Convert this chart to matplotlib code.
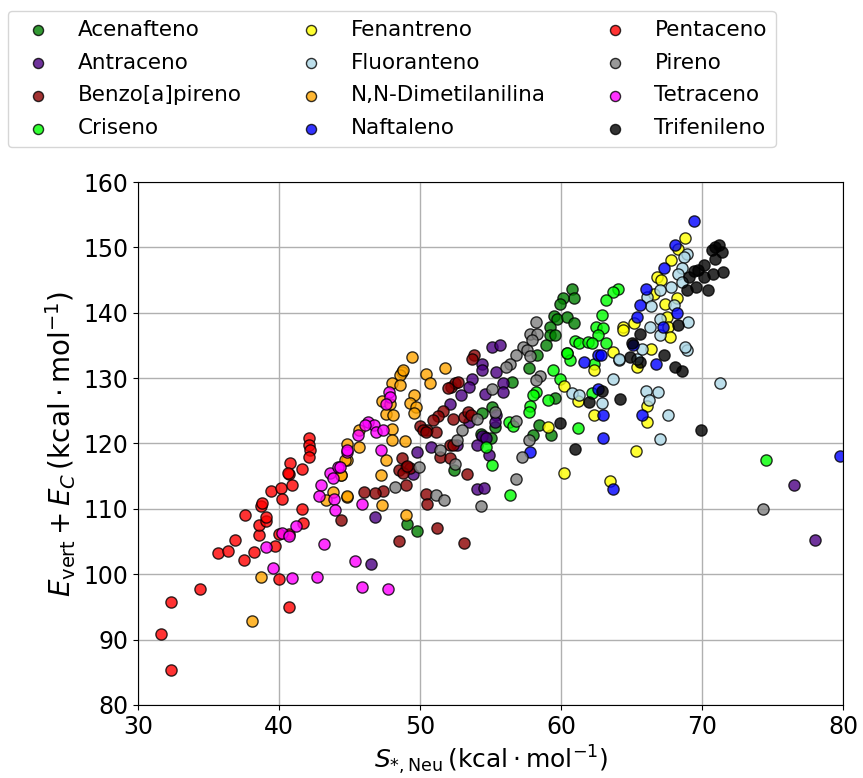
import numpy as np
import matplotlib
matplotlib.use("Agg")
import matplotlib.pyplot as plt

# valores (S_*,Neu ; E_vert + E_C), em kcal/mol
acenafteno_x = [60.8, 60.9, 60.1, 59.9, 59.5, 59.7, 60.4, 60.9, 59.2, 59.2, 59.6, 58.9, 58.3,
                57.7, 56.5, 59.6, 55.1, 54.4, 55.3, 58.4, 58.0, 59.3, 54.3, 54.6, 55.0, 52.4,
                49.1, 49.8]
acenafteno_y = [143.6, 142.3, 142.2, 141.3, 139.5, 139.1, 139.4, 138.5, 137.8, 136.6, 136.6, 135.0, 133.5,
                131.5, 129.4, 126.9, 125.6, 124.6, 122.5, 122.8, 121.3, 121.3, 121.4, 121.0, 120.9, 115.9,
                107.6, 106.6]

antraceno_x = [76.5, 78.0, 46.5, 46.8, 55.1, 55.7, 54.4, 54.4, 55.4, 53.7, 55.9, 55.9, 52.9,
               53.5, 54.6, 52.1, 55.4, 55.3, 53.5, 54.4, 54.7, 54.0, 52.6, 50.8, 49.8, 54.9,
               49.5, 54.0, 54.5]
antraceno_y = [113.6, 105.3, 101.6, 108.7, 134.8, 135.0, 132.2, 131.3, 131.0, 129.9, 129.2, 127.9, 127.4,
               128.7, 127.5, 126.0, 124.3, 123.3, 123.3, 121.1, 120.9, 119.7, 119.7, 119.5, 118.7, 118.2,
               115.3, 113.1, 113.2]

benzo_x = [44.4, 48.5, 51.2, 53.1, 53.8, 53.7, 52.2, 52.5, 52.7, 52.0, 51.6, 51.3, 50.9,
           52.3, 53.1, 53.4, 53.6, 50.0, 50.5, 50.2, 51.1, 50.4, 52.1, 52.3, 51.4, 52.1,
           48.7, 49.0, 49.3, 48.5, 48.8, 49.1, 53.3, 49.0, 47.4, 46.8, 46.0, 50.4, 50.5]
benzo_y = [108.3, 105.0, 107.1, 104.7, 133.5, 133.0, 128.7, 129.2, 129.4, 128.5, 125.0, 124.2, 123.6,
           123.8, 124.1, 124.8, 124.3, 122.6, 122.1, 122.0, 121.8, 121.7, 119.7, 119.8, 117.9, 117.7,
           117.7, 116.4, 116.3, 115.9, 115.5, 116.6, 115.4, 113.6, 112.8, 112.4, 112.6, 112.3, 110.8]

criseno_x = [74.5, 60.4, 60.6, 59.4, 59.9, 58.2, 58.0, 59.1, 57.8, 57.7, 56.3, 56.6, 61.2,
             54.7, 55.1, 56.4, 61.0, 61.3, 61.9, 60.4, 64.0, 63.7, 63.2, 62.9, 62.5, 63.0,
             62.6, 63.2, 62.2, 62.3, 62.2]
criseno_y = [117.5, 133.8, 132.7, 131.3, 129.8, 127.9, 127.4, 126.7, 125.8, 124.8, 123.3, 122.6, 122.4,
             119.5, 116.7, 112.1, 135.7, 135.4, 135.5, 133.9, 143.6, 143.2, 141.9, 139.6, 137.8, 137.7,
             136.6, 135.3, 135.3, 132.2, 127.7]

fenantreno_x = [68.8, 67.8, 68.3, 66.8, 67.1, 68.2, 66.6, 67.4, 67.5, 67.6, 67.7, 65.2, 64.4,
                64.4, 66.4, 63.7, 62.3, 65.4, 62.3, 66.1, 66.1, 65.3, 63.5, 60.2, 61.2, 59.1,
                60.2]
fenantreno_y = [151.5, 148.1, 149.8, 145.5, 145.0, 142.3, 142.9, 141.4, 139.4, 137.8, 136.3, 138.5, 137.8,
                137.3, 134.4, 134.0, 131.2, 131.7, 124.3, 125.7, 123.3, 118.9, 114.3, 128.8, 126.5, 122.5,
                115.5]

fluoranteno_x = [71.3, 67.0, 67.6, 66.0, 66.9, 66.2, 63.7, 62.9, 64.1, 65.4, 68.9, 68.9, 68.7,
                 68.6, 68.3, 67.8, 68.6, 67.0, 66.1, 66.4, 68.0, 69.0, 67.0, 66.3, 67.0, 68.8,
                 65.7, 64.1, 60.8, 61.3]
fluoranteno_y = [129.2, 120.7, 124.3, 128.1, 127.9, 126.7, 129.8, 126.2, 132.7, 133.0, 134.3, 149.0, 148.6,
                 146.9, 145.9, 144.0, 144.7, 143.5, 142.4, 141.0, 141.2, 138.6, 139.0, 137.8, 136.6, 134.8,
                 134.5, 133.0, 127.7, 127.4]

dimetil_x = [38.7, 38.1, 44.8, 44.8, 44.4, 43.8, 43.3, 44.8, 49.4, 51.8, 50.4, 48.7, 48.6,
             48.8, 50.7, 48.0, 48.6, 49.6, 49.3, 49.7, 49.6, 47.3, 47.9, 47.6, 48.1, 48.0,
             45.7, 48.0, 48.9, 45.7, 47.6, 44.7, 47.2, 44.4, 44.8, 47.3, 49.0]
dimetil_y = [99.6, 92.9, 119.9, 117.4, 115.1, 112.6, 111.3, 111.8, 133.2, 131.6, 130.7, 131.0, 130.5,
             131.3, 129.2, 129.2, 128.9, 127.4, 126.2, 125.6, 124.7, 126.5, 126.1, 124.5, 124.3, 122.2,
             122.1, 120.5, 120.4, 119.4, 117.5, 117.5, 115.1, 115.1, 111.9, 110.6, 109.1]

naftaleno_x = [79.8, 69.4, 68.1, 67.3, 66.0, 65.6, 68.2, 66.7, 65.7, 63.0, 63.0, 63.7, 62.6,
               62.6, 61.6, 57.8, 67.2, 65.4, 62.8, 65.1]
naftaleno_y = [118.1, 154.1, 150.4, 146.9, 143.6, 141.2, 140.0, 132.2, 124.3, 124.3, 120.9, 113.0, 133.5,
               128.4, 132.5, 118.7, 137.8, 139.4, 133.5, 135.0]

pentaceno_x = [31.6, 32.3, 32.3, 34.4, 35.7, 36.4, 36.9, 37.5, 38.2, 38.6, 38.6, 39.1, 39.7,
               40.0, 40.0, 40.7, 40.7, 41.7, 37.6, 39.1, 38.7, 38.8, 39.4, 40.1, 40.2, 40.7,
               40.8, 40.9, 40.6, 41.6, 41.6, 42.1, 42.1, 42.2, 42.1]
pentaceno_y = [90.8, 85.4, 95.8, 97.7, 103.2, 103.6, 105.2, 102.1, 103.4, 106.0, 107.5, 108.2, 104.3,
               106.1, 99.2, 94.9, 106.1, 107.8, 109.0, 108.7, 110.5, 110.9, 112.7, 113.2, 111.5, 115.3,
               117.0, 113.6, 115.5, 116.1, 110.0, 120.9, 119.8, 119.0, 118.0]

pireno_x = [74.3, 58.2, 57.8, 58.3, 57.9, 57.3, 57.6, 56.8, 57.8, 56.4, 56.1, 58.5, 58.2,
            55.1, 55.3, 54.0, 56.8, 53.0, 52.6, 51.4, 57.7, 57.2, 49.9, 52.5, 48.2, 51.1,
            51.7, 54.3, 56.8]
pireno_y = [110.0, 138.6, 136.7, 136.8, 135.8, 134.8, 134.3, 133.5, 133.4, 132.2, 131.7, 130.3, 129.7,
            128.3, 124.8, 123.8, 123.4, 122.0, 120.5, 119.0, 120.5, 118.0, 116.4, 116.9, 113.4, 112.1,
            111.3, 110.5, 114.5]

tetraceno_x = [39.6, 39.1, 40.2, 40.7, 41.2, 40.9, 42.7, 43.2, 45.4, 45.9, 47.7, 43.0, 42.8,
               43.6, 43.8, 44.2, 43.9, 44.0, 44.8, 47.8, 47.9, 47.6, 46.3, 46.7, 46.9, 47.4,
               46.1, 45.6, 44.8, 47.2, 44.3, 45.9]
tetraceno_y = [101.0, 104.1, 106.3, 105.8, 107.3, 99.4, 99.5, 104.6, 102.0, 98.1, 97.7, 113.6, 112.0,
               115.5, 114.7, 116.4, 111.5, 109.8, 118.7, 127.9, 127.1, 126.1, 123.3, 122.8, 121.8, 122.0,
               122.9, 121.3, 119.0, 119.0, 116.4, 110.8]

trifenileno_x = [70.9, 71.2, 71.4, 70.9, 70.1, 71.5, 70.8, 69.7, 70.1, 69.4, 69.1, 70.4, 69.6,
                 68.9, 68.3, 65.6, 65.0, 64.9, 65.6, 67.3, 68.1, 68.6, 64.2, 62.9, 69.9, 59.9,
                 61.0, 62.0, 70.7]
trifenileno_y = [150.1, 150.3, 149.3, 148.3, 147.3, 146.3, 146.0, 146.5, 145.5, 146.4, 145.5, 143.5, 144.0,
                 143.5, 138.1, 136.8, 135.3, 133.2, 132.5, 133.5, 131.7, 131.1, 126.8, 128.1, 122.0, 123.1,
                 119.1, 126.4, 149.6]

series = [
    ('Acenafteno', acenafteno_x, acenafteno_y, 'green'),
    ('Antraceno', antraceno_x, antraceno_y, 'indigo'),
    ('Benzo[a]pireno', benzo_x, benzo_y, 'darkred'),
    ('Criseno', criseno_x, criseno_y, 'lime'),
    ('Fenantreno', fenantreno_x, fenantreno_y, 'yellow'),
    ('Fluoranteno', fluoranteno_x, fluoranteno_y, 'lightblue'),
    ('N,N-Dimetilanilina', dimetil_x, dimetil_y, 'orange'),
    ('Naftaleno', naftaleno_x, naftaleno_y, 'blue'),
    ('Pentaceno', pentaceno_x, pentaceno_y, 'red'),
    ('Pireno', pireno_x, pireno_y, 'gray'),
    ('Tetraceno', tetraceno_x, tetraceno_y, 'magenta'),
    ('Trifenileno', trifenileno_x, trifenileno_y, 'black'),
]

fig = plt.figure(figsize=(8.63, 7.78), dpi=100)
ax = fig.add_axes([0.16, 0.094, 0.817, 0.672])

for nome, x, y, cor in series:
    ax.scatter(x, y, s=65, c=cor, edgecolors='black', linewidths=1.0, alpha=0.8, label=nome)

ax.set_xlim(30, 80)
ax.set_ylim(80, 160)
ax.grid(True, color='#b0b0b0', linewidth=1)
ax.set_axisbelow(True)
ax.tick_params(labelsize=17)
ax.set_xlabel(r'$S_{*,\mathrm{Neu}}\,(\mathrm{kcal} \cdot \mathrm{mol}^{-1})$', fontsize=18)
ax.set_ylabel(r'$E_\mathrm{vert} + E_C\,(\mathrm{kcal} \cdot \mathrm{mol}^{-1})$', fontsize=20)

fig.legend(loc='upper left', bbox_to_anchor=(8 / 863, 1 - 11 / 778), borderaxespad=0,
           ncol=3, fontsize=15.5, columnspacing=2.2, handletextpad=0.85,
           labelspacing=0.6, markerscale=0.9)

fig.savefig('out.png', dpi=100)
